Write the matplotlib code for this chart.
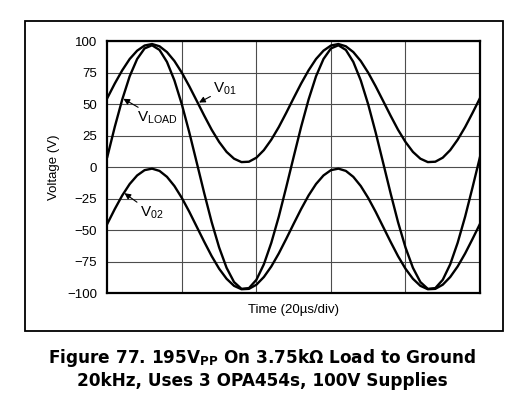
import numpy as np
import matplotlib.pyplot as plt
from matplotlib.patches import Rectangle

plt.rcParams['font.family'] = ['Liberation Sans', 'DejaVu Sans']
plt.rcParams['mathtext.fontset'] = 'custom'
plt.rcParams['mathtext.rm'] = 'Liberation Sans'
plt.rcParams['mathtext.bf'] = 'DejaVu Sans:bold'
plt.rcParams['mathtext.it'] = 'Liberation Sans:italic'

# scope traces, one point every 2us (0..100us)
time_us = list(range(0, 101, 2))

v01_one = [55.1, 66.6, 77.1, 86.1, 92.7, 96.8, 98.0, 96.2, 91.6, 84.5,
           75.2, 64.4, 52.8, 41.1, 29.9, 20.2, 12.3, 6.9, 4.2, 4.5,
           7.7, 13.7, 22.0, 32.0, 43.3]
v02_one = [-44.8, -33.1, -22.3, -13.2, -6.4, -2.2, -1.0, -2.8, -7.5, -14.8,
           -24.3, -35.3, -47.2, -59.1, -70.5, -80.5, -88.5, -94.1, -96.8, -96.5,
           -93.2, -87.1, -78.7, -68.4, -56.8]
vload_one = [8.4, 32.2, 53.9, 72.4, 86.1, 94.5, 97.0, 93.3, 83.8, 69.1,
             50.0, 27.7, 3.7, -20.5, -43.5, -63.6, -79.8, -91.1, -96.5, -95.9,
             -89.3, -77.0, -59.9, -39.2, -15.8]

# two cycles shown (20kHz over 100us), trace closes on its first value
v01 = v01_one * 2 + [v01_one[0]]
v02 = v02_one * 2 + [v02_one[0]]
vload = vload_one * 2 + [vload_one[0]]

y_ticks = [-100, -75, -50, -25, 0, 25, 50, 75, 100]

fig = plt.figure(figsize=(5.3, 3.99), dpi=100)
ax = fig.add_axes([0.2025, 0.265, 0.7032, 0.631])

ax.plot(time_us, v01, color='black', lw=1.7, zorder=3)
ax.plot(time_us, vload, color='black', lw=1.7, zorder=3)
ax.plot(time_us, v02, color='black', lw=1.7, zorder=3)

ax.set_xlim(0, 100)
ax.set_ylim(-100, 100)
ax.set_xticks([20, 40, 60, 80])
ax.set_xticklabels([])
ax.set_yticks(y_ticks)
ax.tick_params(axis='both', length=0, labelsize=9.5, pad=7.5)
ax.grid(True, color='0.3', lw=0.8)
for s in ax.spines.values():
    s.set_linewidth(1.6)

ax.set_ylabel('Voltage (V)', fontsize=9.5, labelpad=5)
ax.set_xlabel('Time (20\u00b5s/div)', fontsize=9.5, labelpad=0.5)

arrow = dict(arrowstyle='-|>', color='black', lw=0.8, mutation_scale=9,
             shrinkA=0, shrinkB=0)
ax.annotate(r'V$_{\mathrm{01}}$', xy=(24.6, 51.5), xytext=(28.4, 62.5),
            fontsize=11, ha='left', va='center', arrowprops=arrow)
ax.annotate(r'V$_{\mathrm{LOAD}}$', xy=(4.3, 54.5), xytext=(7.9, 39.0),
            fontsize=11, ha='left', va='center', arrowprops=arrow)
ax.annotate(r'V$_{\mathrm{02}}$', xy=(4.6, -20.5), xytext=(8.7, -36.0),
            fontsize=11, ha='left', va='center', arrowprops=arrow)

# outer frame round the chart
fig.patches.append(Rectangle((0.0466, 0.1697), 0.9024, 0.7773, transform=fig.transFigure,
                             fill=False, lw=1.3, edgecolor='black'))

title1 = r'Figure 77. 195V$_{\mathbf{PP}}$ On 3.75k' + '\u03a9 Load to Ground'
title2 = '20kHz, Uses 3 OPA454s, 100V Supplies'
fig.text(0.494, 0.103, title1, family='DejaVu Sans', fontsize=12.2,
         fontweight='bold', ha='center', va='center')
fig.text(0.494, 0.045, title2, family='DejaVu Sans', fontsize=12.2,
         fontweight='bold', ha='center', va='center')

fig.savefig('out.png', dpi=100)
